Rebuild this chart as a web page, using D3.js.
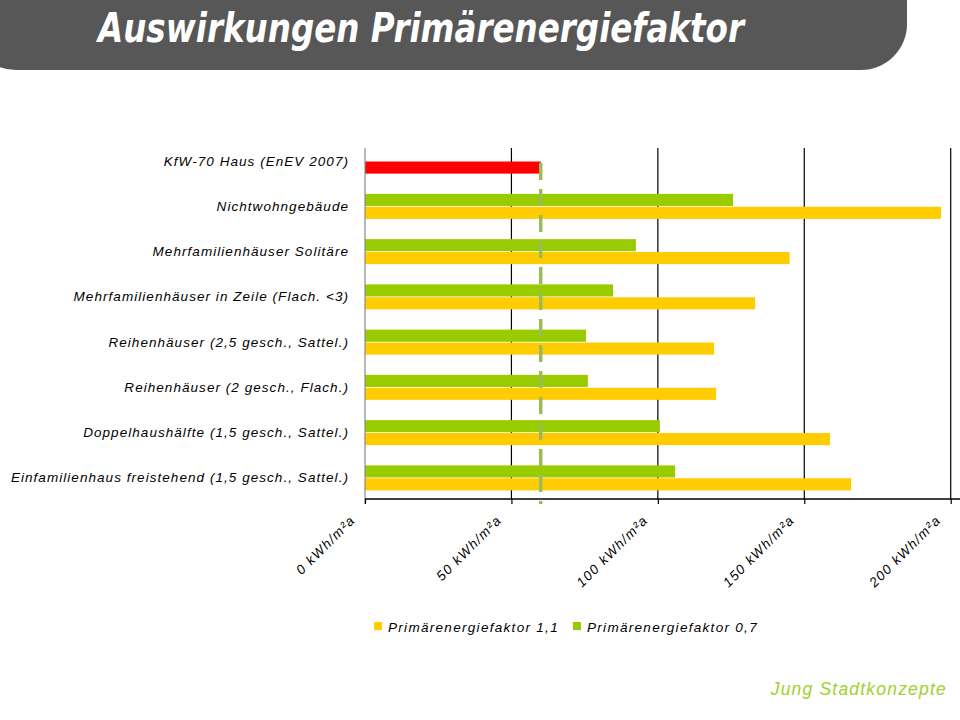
<!DOCTYPE html>
<html>
<head>
<meta charset="utf-8">
<script src="https://cdn.jsdelivr.net/npm/d3@7"></script>
<style>
  body { margin: 0; background: #fff; }
  svg { display: block; }
</style>
</head>
<body>
<div id="chart"></div>
<script>
// categories top to bottom
const categories = [
    "KfW-70 Haus (EnEV 2007)",
    "Nichtwohngebäude",
    "Mehrfamilienhäuser Solitäre",
    "Mehrfamilienhäuser in Zeile (Flach. <3)",
    "Reihenhäuser (2,5 gesch., Sattel.)",
    "Reihenhäuser (2 gesch., Flach.)",
    "Doppelhaushälfte (1,5 gesch., Sattel.)",
    "Einfamilienhaus freistehend (1,5 gesch., Sattel.)"
];
const seriesNames = ["Primärenergiefaktor 0,7", "Primärenergiefaktor 1,1"];
const valuesFaktor07 = [null, 125.7, 92.5, 84.7, 75.5, 76.1, 100.7, 105.9];
const valuesFaktor11 = [60, 196.7, 145, 133.2, 119.2, 119.9, 158.8, 166];
const kfwReference = 60;
const tickValues = [0, 50, 100, 150, 200];
const legendOrder = ["Primärenergiefaktor 1,1", "Primärenergiefaktor 0,7"];

const colors = {
    "Primärenergiefaktor 0,7": "#99cc00",
    "Primärenergiefaktor 1,1": "#ffcc00"
};

const W = 960, H = 720;
const plot = {left: 365, right: 950.7, top: 138.5, bottom: 500.5, axisY: 499, gridTop: 148};
const labelFont = "'Liberation Sans', Arial, sans-serif";

const svg = d3.select("#chart").append("svg")
    .attr("width", W)
    .attr("height", H);

// Title banner
svg.append("rect")
    .attr("x", -30).attr("y", -50)
    .attr("width", 937).attr("height", 120)
    .attr("rx", 46).attr("ry", 46)
    .attr("fill", "#575757");

svg.append("text")
    .attr("x", 98).attr("y", 42)
    .attr("textLength", 646)
    .attr("lengthAdjust", "spacingAndGlyphs")
    .style("font-family", "'Liberation Sans Narrow', 'DejaVu Sans Condensed', sans-serif")
    .style("font-stretch", "condensed")
    .style("font-style", "italic")
    .style("font-weight", "bold")
    .style("font-size", "40px")
    .style("fill", "#ffffff")
    .text("Auswirkungen Primärenergiefaktor");

// Scales
const x = d3.scaleLinear().domain([0, 200]).range([plot.left, plot.right]);
const y0 = d3.scaleBand().domain(categories).range([plot.top, plot.bottom]).padding(0);
const half = y0.bandwidth() / 2;
const y1 = d3.scaleBand().domain(seriesNames)
    .range([half - 12.5, half + 12.5])
    .paddingInner(0.06);

// Gridlines
svg.append("g")
    .selectAll("line")
    .data(tickValues.slice(1))
    .join("line")
    .attr("x1", d => x(d)).attr("x2", d => x(d))
    .attr("y1", plot.gridTop).attr("y2", plot.axisY)
    .attr("stroke", "#000").attr("stroke-width", 1.2);

// Bars
const rows = categories.map((c, i) => ({
    cat: c,
    vals: [
        {s: seriesNames[0], v: valuesFaktor07[i]},
        {s: seriesNames[1], v: valuesFaktor11[i]}
    ]
}));

const groups = svg.append("g").selectAll("g")
    .data(rows)
    .join("g")
    .attr("transform", d => `translate(0,${y0(d.cat)})`);

groups.selectAll("rect")
    .data(d => d.vals.filter(e => e.v != null).map(e => ({...e, cat: d.cat})))
    .join("rect")
    .attr("x", x(0))
    .attr("y", d => y1(d.s))
    .attr("width", d => x(d.v) - x(0))
    .attr("height", y1.bandwidth())
    .attr("fill", d => d.cat === categories[0] ? "#ff0000" : colors[d.s]);

// Left axis line
svg.append("line")
    .attr("x1", x(0)).attr("x2", x(0))
    .attr("y1", plot.gridTop).attr("y2", plot.axisY + 5)
    .attr("stroke", "#888").attr("stroke-width", 1.2);

// Category labels
svg.append("g").selectAll("text")
    .data(categories)
    .join("text")
    .attr("x", 349)
    .attr("y", d => y0(d) + half + 4.5)
    .attr("text-anchor", "end")
    .style("font-family", labelFont)
    .style("font-style", "italic")
    .style("font-size", "13.5px")
    .style("letter-spacing", "1.05px")
    .style("fill", "#000")
    .text(d => d);

// Bottom axis
const xAxis = svg.append("g")
    .attr("transform", `translate(0,${plot.axisY})`)
    .call(d3.axisBottom(x).tickValues(tickValues).tickSize(5).tickFormat(""));
xAxis.select(".domain").attr("stroke", "#000").attr("stroke-width", 1.5)
    .attr("d", `M${x(0)},0H${x(200) + 10}`);
xAxis.selectAll(".tick line").attr("stroke", "#000").attr("stroke-width", 1.2);

svg.append("g").selectAll("text")
    .data(tickValues)
    .join("text")
    .attr("transform", d => `translate(${x(d) - 9},${plot.axisY + 22}) rotate(-45)`)
    .attr("text-anchor", "end")
    .style("font-family", labelFont)
    .style("font-style", "italic")
    .style("font-size", "13.5px")
    .style("letter-spacing", "1.3px")
    .style("fill", "#000")
    .text(d => `${d} kWh/m²a`);

// KfW reference dashed line
svg.append("line")
    .attr("x1", x(kfwReference)).attr("x2", x(kfwReference))
    .attr("y1", 163).attr("y2", 504)
    .attr("stroke", "#9bbb59")
    .attr("stroke-width", 3.5)
    .attr("stroke-dasharray", "17,9");

// Legend
const legend = svg.append("g").attr("transform", "translate(374,627)");
const legendX = [0, 199];
legendOrder.forEach((name, i) => {
    const g = legend.append("g").attr("transform", `translate(${legendX[i]},0)`);
    g.append("rect")
        .attr("x", 0).attr("y", -5)
        .attr("width", 8).attr("height", 8)
        .attr("fill", colors[name]);
    g.append("text")
        .attr("x", 14).attr("y", 4.5)
        .style("font-family", labelFont)
        .style("font-style", "italic")
        .style("font-size", "13.5px")
        .style("letter-spacing", "1.3px")
        .style("fill", "#000")
        .text(name);
});

// Footer
svg.append("text")
    .attr("x", 947).attr("y", 695)
    .attr("text-anchor", "end")
    .style("font-family", labelFont)
    .style("font-style", "italic")
    .style("font-size", "17.5px")
    .style("letter-spacing", "1.2px")
    .style("fill", "#9fd12c")
    .text("Jung Stadtkonzepte");
</script>
</body>
</html>
